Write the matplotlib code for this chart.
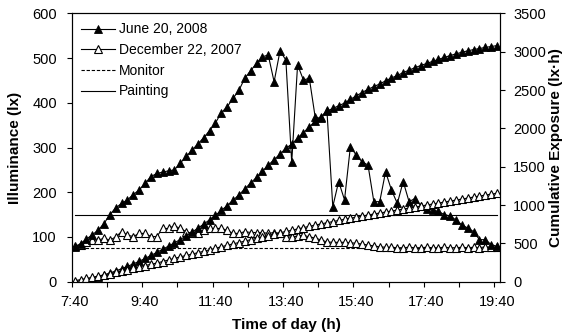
import matplotlib
matplotlib.use("Agg")
import matplotlib.pyplot as plt
import numpy as np

plt.rcParams['font.family'] = ['Liberation Sans', 'DejaVu Sans']

# ---- data (10-minute readings, 7:40 .. 19:40) ----
time_labels = ["7:40", "9:40", "11:40", "13:40", "15:40", "17:40", "19:40"]

june_lux = [78, 85, 95, 105, 115, 130, 150, 165, 175, 183,
            195, 205, 220, 235, 242, 245, 248, 250, 265, 280,
            294, 308, 322, 338, 355, 378, 391, 410, 428, 455,
            472, 488, 503, 507, 447, 516, 496, 267, 485, 451,
            455, 368, 365, 383, 168, 224, 183, 302, 283, 268,
            261, 179, 179, 246, 205, 175, 224, 179, 186, 170,
            163, 160, 157, 150, 147, 138, 127, 120, 112, 94,
            94, 83, 79]

dec_lux = [80, 82, 88, 93, 93, 97, 93, 100, 112, 104,
           101, 108, 108, 101, 101, 119, 119, 125, 119, 112,
           108, 108, 115, 119, 119, 119, 115, 108, 108, 112,
           110, 110, 110, 108, 110, 108, 100, 100, 102, 104,
           100, 98, 93, 89, 88, 88, 88, 87, 86, 84,
           82, 80, 78, 77, 77, 76, 76, 77, 76, 76,
           77, 76, 76, 77, 76, 76, 77, 76, 77, 76,
           78, 77, 78]

june_cum = [0, 14, 30, 47, 66, 88, 113, 140, 169, 200,
            232, 266, 303, 342, 382, 423, 464, 506, 550, 597,
            646, 697, 751, 807, 866, 929, 994, 1062, 1133, 1209,
            1288, 1360, 1440, 1520, 1592, 1665, 1740, 1795, 1870, 1945,
            2020, 2090, 2155, 2225, 2260, 2295, 2330, 2378, 2425, 2468,
            2510, 2545, 2580, 2620, 2658, 2690, 2728, 2760, 2792, 2820,
            2847, 2874, 2900, 2925, 2950, 2972, 2993, 3012, 3028, 3042,
            3056, 3068, 3080]

dec_cum = [13, 27, 42, 57, 73, 89, 104, 121, 140, 157,
           174, 192, 210, 227, 243, 263, 283, 304, 324, 342,
           360, 378, 397, 416, 436, 456, 475, 493, 511, 529,
           548, 566, 584, 602, 620, 638, 655, 671, 688, 705,
           722, 738, 754, 769, 784, 799, 814, 828, 842, 856,
           870, 883, 896, 909, 922, 935, 948, 961, 974, 987,
           1000, 1013, 1026, 1039, 1052, 1065, 1078, 1091, 1104, 1117,
           1130, 1142, 1154]

monitor_lux = 75
painting_lux = 150

# ---- figure ----
W, H = 569, 335
fig = plt.figure(figsize=(W / 100, H / 100), dpi=100)
ax = fig.add_axes([71.7 / W, 1 - 281.7 / H, (500 - 71.7) / W, (281.7 - 13.4) / H])
ax2 = ax.twinx()

n = len(june_lux)
x = np.arange(n) + 0.5  # category centres

lw = 0.8
ms = 5.5
ax.plot(x, june_lux, color='k', lw=lw, marker='^', ms=ms, mfc='k', mec='k',
        mew=0.6, label='June 20, 2008', zorder=4)
ax.plot(x, dec_lux, color='k', lw=lw, marker='^', ms=ms, mfc='white', mec='k',
        mew=0.8, label='December 22, 2007', zorder=3)
ax.plot(x[[0, -1]], [monitor_lux, monitor_lux], color='k', lw=lw, ls=(0, (3, 1.6)),
        label='Monitor', zorder=2)
ax.plot(x[[0, -1]], [painting_lux, painting_lux], color='k', lw=lw, ls='-',
        label='Painting', zorder=2)

ax2.plot(x, june_cum, color='k', lw=lw, marker='^', ms=ms, mfc='k', mec='k', mew=0.6)
ax2.plot(x, dec_cum, color='k', lw=lw, marker='^', ms=ms, mfc='white', mec='k', mew=0.8)

ax.set_xlim(0, n)
ax.set_ylim(0, 600)
ax.set_yticks(range(0, 601, 100))
ax2.set_ylim(0, 3500)
ax2.set_yticks(range(0, 3501, 500))

tick_fs = 10.5
ax.set_xticks(np.arange(0, n, 12) + 0.5)
ax.set_xticklabels(time_labels)
ax.set_xticks(np.arange(0, n, 6), minor=True)
ax.tick_params(axis='x', which='major', length=0, pad=9.6, labelsize=tick_fs)
ax.tick_params(axis='x', which='minor', length=3.6, direction='out', width=0.8)
ax.tick_params(axis='y', length=3.6, direction='out', width=0.8, pad=7, labelsize=tick_fs)
ax2.tick_params(axis='y', length=3.6, direction='out', width=0.8, pad=6, labelsize=tick_fs)

for a in (ax, ax2):
    for s in a.spines.values():
        s.set_linewidth(0.8)

lab_fs = 11
ax.set_xlabel('Time of day (h)', fontsize=lab_fs, fontweight='bold')
ax.set_ylabel('Illuminance (lx)', fontsize=lab_fs, fontweight='bold')
ax2.set_ylabel('Cumulative Exposure (lx\u00b7h)', fontsize=lab_fs, fontweight='bold')
ax.xaxis.set_label_coords((286 - 71.7) / 428.3, (281.7 - 324.5) / 268.3)
ax.xaxis.label.set_va('center')
ax.yaxis.set_label_coords((15 - 71.7) / 428.3, 0.5)
ax.yaxis.label.set_va('center')
ax2.yaxis.set_label_coords((556 - 71.7) / 428.3, 0.5)
ax2.yaxis.label.set_va('center')

ax.legend(loc='upper left', frameon=False, fontsize=10, handlelength=2.5,
          handletextpad=0.25, labelspacing=0.48, numpoints=1,
          borderaxespad=0.3, borderpad=0.35)

fig.savefig('out.png', dpi=100)
